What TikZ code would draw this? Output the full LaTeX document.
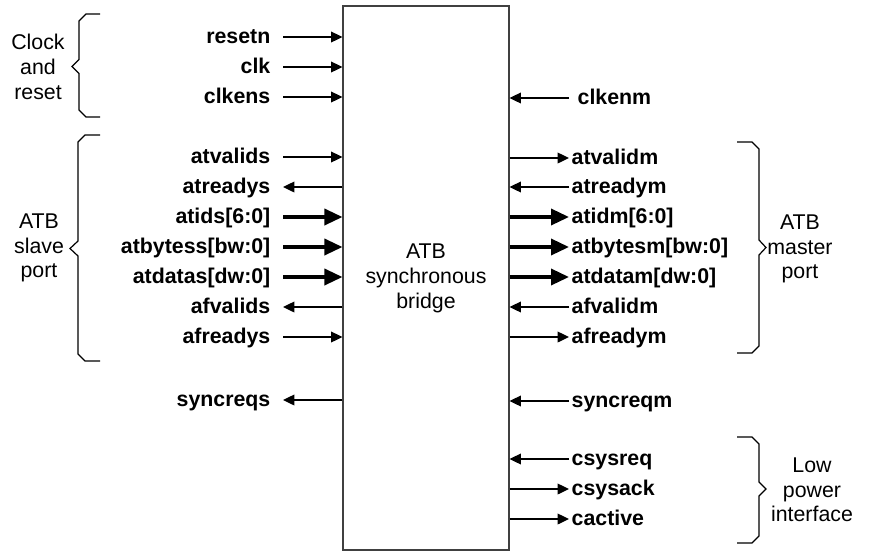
\documentclass[tikz,border=0pt]{standalone}
\usepackage{fontspec}
\setmainfont{Liberation Sans}
\usetikzlibrary{arrows.meta}
\begin{document}
\begin{tikzpicture}[x=0.75pt,y=-0.75pt,
  sig/.style={font=\bfseries\fontsize{16}{19}\selectfont, inner sep=0pt, text height=10pt, text depth=0pt},
  lsig/.style={sig, anchor=east, outer xsep=9.5pt},
  rsig/.style={sig, anchor=west, outer xsep=2pt},
  wire/.style={draw=black, line width=1pt, -{Triangle[length=8.5pt,width=8pt]}},
  bus/.style={draw=black, line width=2.6pt, -{Triangle[length=13.5pt,width=12pt]}},
  group/.style={font=\fontsize{16}{18.5}\selectfont, align=center, inner sep=0pt},
  brace/.style={draw=black, line width=0.9pt}
]
\useasboundingbox (0,0) rectangle (872,551);

% the bridge block
\node[draw=black!75, line width=0.8pt, minimum width=124.5pt, minimum height=408pt,
      inner sep=0pt, align=center, font=\fontsize{16}{18.75}\selectfont]
      (box) at (426,278) {ATB\\synchronous\\bridge};

% slave-side signals
\node[lsig] (resetn)   at (283,37)  {resetn};
\node[lsig] (clk)      at (283,67)  {clk};
\node[lsig] (clkens)   at (283,97)  {clkens};
\node[lsig] (atvalids) at (283,157) {atvalids};
\node[lsig] (atreadys) at (283,187) {atreadys};
\node[lsig] (atids)    at (283,217) {atids[6:0]};
\node[lsig] (atbytess) at (283,247) {atbytess[bw:0]};
\node[lsig] (atdatas)  at (283,277) {atdatas[dw:0]};
\node[lsig] (afvalids) at (283,307) {afvalids};
\node[lsig] (afreadys) at (283,337) {afreadys};
\node[lsig] (syncreqs) at (283,400) {syncreqs};

\draw[wire] (resetn)   -- (resetn -| box.west);
\draw[wire] (clk)      -- (clk -| box.west);
\draw[wire] (clkens)   -- (clkens -| box.west);
\draw[wire] (atvalids) -- (atvalids -| box.west);
\draw[wire] (atreadys -| box.west) -- (atreadys);
\draw[bus]  (atids)    -- (atids -| box.west);
\draw[bus]  (atbytess) -- (atbytess -| box.west);
\draw[bus]  (atdatas)  -- (atdatas -| box.west);
\draw[wire] (afvalids -| box.west) -- (afvalids);
\draw[wire] (afreadys) -- (afreadys -| box.west);
\draw[wire] (syncreqs -| box.west) -- (syncreqs);

% master-side signals
\node[rsig, outer xsep=6.5pt] (clkenm) at (569,98) {clkenm};
\node[rsig] (atvalidm) at (569,158) {atvalidm};
\node[rsig] (atreadym) at (569,187) {atreadym};
\node[rsig] (atidm)    at (569,217) {atidm[6:0]};
\node[rsig] (atbytesm) at (569,247) {atbytesm[bw:0]};
\node[rsig] (atdatam)  at (569,277) {atdatam[dw:0]};
\node[rsig] (afvalidm) at (569,307) {afvalidm};
\node[rsig] (afreadym) at (569,337) {afreadym};
\node[rsig] (syncreqm) at (569,401) {syncreqm};
\node[rsig] (csysreq)  at (569,459) {csysreq};
\node[rsig] (csysack)  at (569,489) {csysack};
\node[rsig] (cactive)  at (569,519) {cactive};

\draw[wire] (clkenm)   -- (clkenm -| box.east);
\draw[wire] (atvalidm -| box.east) -- (atvalidm);
\draw[wire] (atreadym) -- (atreadym -| box.east);
\draw[bus]  (atidm -| box.east)    -- (atidm);
\draw[bus]  (atbytesm -| box.east) -- (atbytesm);
\draw[bus]  (atdatam -| box.east)  -- (atdatam);
\draw[wire] (afvalidm) -- (afvalidm -| box.east);
\draw[wire] (afreadym -| box.east) -- (afreadym);
\draw[wire] (syncreqm) -- (syncreqm -| box.east);
\draw[wire] (csysreq)  -- (csysreq -| box.east);
\draw[wire] (csysack -| box.east)  -- (csysack);
\draw[wire] (cactive -| box.east)  -- (cactive);

% grouping braces
\draw[brace] (100,14) -- (86,14) -- (79,21) -- (79,59.5) -- (72,66.5) -- (79,73.5)
             -- (79,110) -- (86,117) -- (100,117);
\draw[brace] (100,135) -- (85,135) -- (78,142) -- (78,241) -- (70,248.5) -- (78,256)
             -- (78,354) -- (85,361) -- (100,361);
\draw[brace] (737,142) -- (752,142) -- (759,149) -- (759,240) -- (766,247.5) -- (759,255)
             -- (759,346) -- (752,353) -- (737,353);
\draw[brace] (737,437) -- (752,437) -- (759,444) -- (759,482) -- (766,489) -- (759,496)
             -- (759,536) -- (752,543) -- (737,543);

% group captions
\node[group] (clockgrp)  at (38,67)   {Clock\\and\\reset};
\node[group] (slavegrp)  at (39,248)  {ATB\\slave\\port};
\node[group] (mastergrp) at (800,249) {ATB\\master\\port};
\node[group] (powergrp)  at (812,490) {Low\\power\\interface};
\end{tikzpicture}
\end{document}
